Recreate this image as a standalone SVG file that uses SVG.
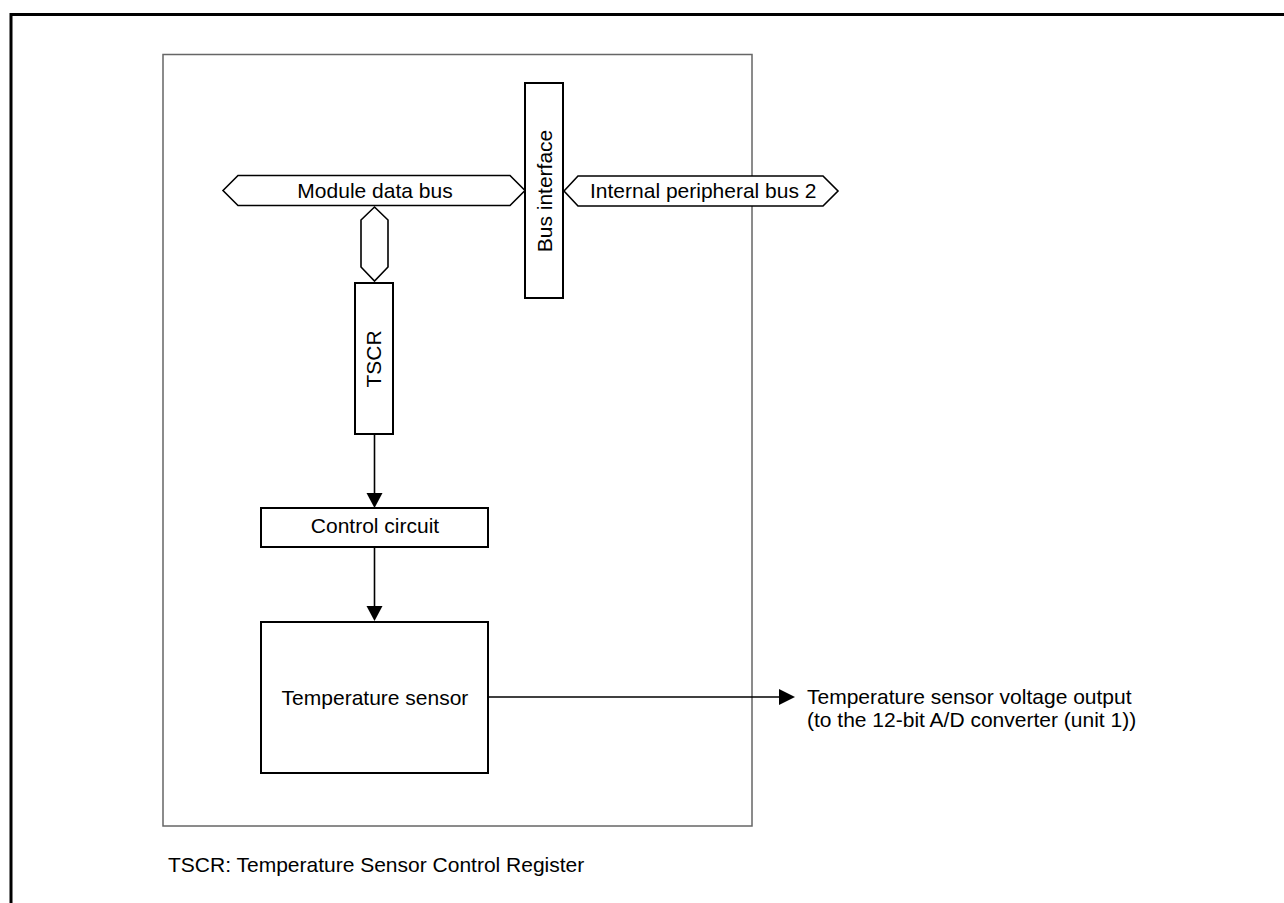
<svg xmlns="http://www.w3.org/2000/svg" width="1284" height="903" viewBox="0 0 1284 903">
<style>
.box{fill:#fff;stroke:#000;stroke-width:2}
.bus{fill:#fff;stroke:#000;stroke-width:1.6}
.t{font-family:"Liberation Sans",Arial,sans-serif;font-size:21px;fill:#000}
.c{text-anchor:middle}
.ln{stroke:#000;stroke-width:1.6;fill:none}
.ah{fill:#000}
</style>
<rect width="1284" height="903" fill="#fff"/>
<rect id="frame" x="11" y="14.5" width="1400" height="1000" fill="none" stroke="#000" stroke-width="3"/>
<rect id="module" x="163" y="54.5" width="589" height="771.5" fill="none" stroke="#666" stroke-width="1.5"/>
<g id="connectors">
<line class="ln" x1="374.5" y1="434" x2="374.5" y2="494"/>
<polygon class="ah" points="366.5,493 382.5,493 374.5,508"/>
<line class="ln" x1="374.5" y1="547" x2="374.5" y2="607"/>
<polygon class="ah" points="366.5,606 382.5,606 374.5,621"/>
<line class="ln" x1="488" y1="697" x2="781" y2="697"/>
<polygon class="ah" points="779,689 779,705 795,697"/>
</g>
<g id="module-data-bus">
<polygon class="bus" points="223,190.5 238,175.5 510,175.5 525,190.5 510,205.5 238,205.5"/>
<text class="t c" x="375" y="198">Module data bus</text>
</g>
<g id="internal-bus">
<polygon class="bus" points="564,191 578,176 823,176 838,191 823,206 578,206"/>
<text class="t" x="590" y="198">Internal peripheral bus 2</text>
</g>
<g id="bus-interface">
<rect class="box" x="525" y="83" width="38" height="215"/>
<text class="t c" transform="translate(552,191) rotate(-90)">Bus interface</text>
</g>
<g id="vertical-bus">
<polygon class="bus" points="374.5,207 388,220 388,267 374.5,281 361,267 361,220"/>
</g>
<g id="tscr">
<rect class="box" x="355" y="283" width="38" height="151"/>
<text class="t c" transform="translate(381,359) rotate(-90)">TSCR</text>
</g>
<g id="control-circuit">
<rect class="box" x="261" y="508" width="227" height="39"/>
<text class="t c" x="375" y="533">Control circuit</text>
</g>
<g id="temperature-sensor">
<rect class="box" x="261" y="622" width="227" height="151"/>
<text class="t c" x="375" y="705">Temperature sensor</text>
</g>
<g id="output-label">
<text class="t" x="807" y="704">Temperature sensor voltage output</text>
<text class="t" x="807" y="727">(to the 12-bit A/D converter (unit 1))</text>
</g>
<g id="footnote">
<text class="t" x="168" y="872">TSCR: Temperature Sensor Control Register</text>
</g>
</svg>
